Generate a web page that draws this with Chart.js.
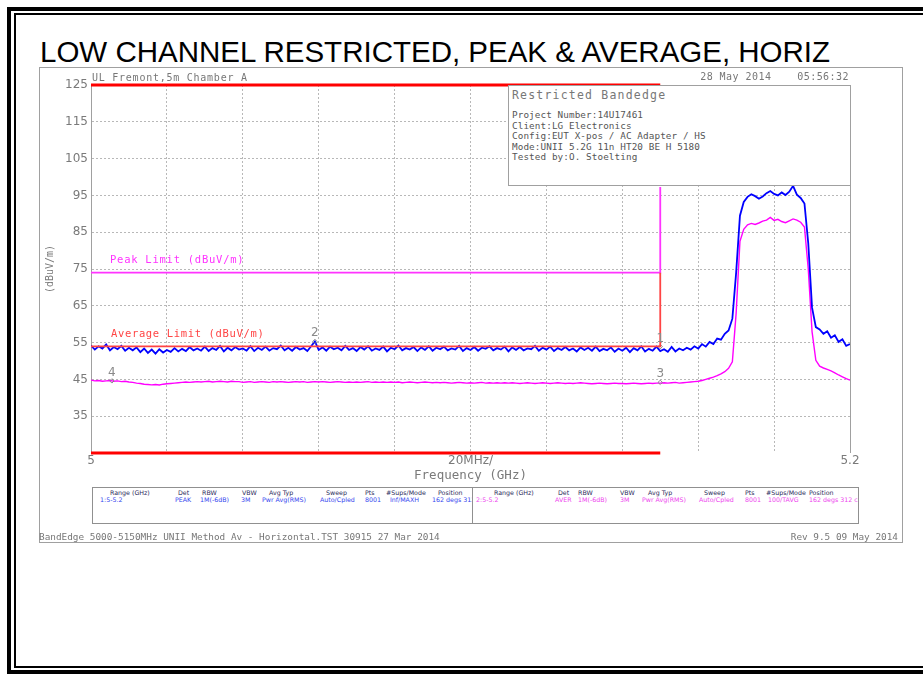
<!DOCTYPE html>
<html>
<head>
<meta charset="utf-8">
<script src="https://cdn.jsdelivr.net/npm/chart.js@4.4.1/dist/chart.umd.min.js"></script>
<style>
  html, body { margin: 0; padding: 0; background: #fff; }
  body { position: relative; width: 923px; height: 675px; overflow: hidden; }
  .abs { position: absolute; white-space: pre; }
  #outer { position: absolute; left: 7px; top: 7px; width: 1000px; height: 659px;
           border-left: 4px solid #000; border-top: 4px solid #000; border-bottom: 4px solid #000; }
  #inner { position: absolute; left: 14px; top: 13px; width: 1000px; height: 651px;
           border-left: 2px solid #000; border-top: 2px solid #000; border-bottom: 2px solid #000; }
  #sheet { position: absolute; left: 39px; top: 67px; width: 862px; height: 474px; border: 1px solid #a0a0a0; }
  #title { position: absolute; left: 40px; top: 37px; font-family: "Liberation Sans", Arial, sans-serif;
           font-size: 29.5px; line-height: 29.5px; color: #000; white-space: pre; }
  #chart { position: absolute; left: 0; top: 0; }
  #infoBox { position: absolute; left: 508px; top: 85px; width: 341px; height: 99px;
             background: #fff; border: 1px solid #a0a0a0; }
  #legendBox { position: absolute; left: 92px; top: 487px; width: 765px; height: 35px; border: 1px solid #909090; background: #fff; }
  .cell { position: absolute; top: 0; height: 35px; overflow: hidden; }
</style>
</head>
<body>
<div id="outer"></div>
<div id="inner"></div>
<div id="sheet"></div>
<div id="title">LOW CHANNEL RESTRICTED, PEAK &amp; AVERAGE, HORIZ</div>
<canvas id="chart" width="923" height="675"></canvas>
<div id="infoBox"></div>
<div id="legendBox">
  <div class="cell" id="cellA" style="left:0;width:379px;border-right:1px solid #909090"></div>
  <div class="cell" id="cellB" style="left:380px;width:385px"></div>
</div>
<script>
// sweep 5.0 - 5.2 GHz, one reading per MHz
const sweepStart = 5.0;
const sweepStop = 5.2;

// trace 1: peak detector, max hold (dBuV/m)
const peakTrace = [
  54.2, 53.1, 54.0, 53.4, 54.5, 52.9, 53.8, 53.2, 54.1, 52.8,
  53.6, 52.9, 53.7, 52.4, 53.4, 52.2, 53.1, 52.0, 53.2, 52.3,
  53.0, 52.5, 53.5, 52.6, 53.3, 52.7, 53.8, 52.9, 53.4, 52.8,
  53.9, 52.7, 53.5, 53.0, 54.1, 52.6, 53.6, 52.9, 53.8, 53.1,
  53.4, 52.8, 54.0, 52.7, 53.6, 53.0, 53.9, 52.8, 53.5, 53.2,
  54.2, 52.9, 53.6, 52.8, 53.8, 53.1, 53.5, 52.7, 54.0, 55.3,
  53.0, 53.7, 52.8, 53.9, 53.2, 53.6, 52.9, 54.1, 53.0, 53.5,
  52.7, 53.8, 53.1, 54.0, 52.8, 53.4, 53.0, 53.9, 52.6, 53.6,
  53.2, 54.2, 52.9, 53.5, 53.1, 53.8, 52.7, 53.7, 53.0, 54.0,
  52.8, 53.6, 53.2, 53.9, 52.9, 53.4, 53.1, 54.1, 52.7, 53.5,
  53.0, 53.8, 52.8, 53.6, 53.3, 54.0, 52.9, 53.5, 53.1, 53.9,
  52.6, 53.7, 53.0, 53.8, 52.9, 53.4, 53.2, 54.1, 52.8, 53.6,
  53.1, 53.9, 52.7, 53.5, 53.0, 53.8, 52.9, 53.4, 52.6, 53.7,
  53.0, 53.6, 52.8, 53.9, 52.7, 53.3, 52.9, 53.7, 52.5, 53.4,
  52.8, 53.6, 52.4, 53.5, 52.9, 54.0, 52.6, 53.3, 52.8, 53.9,
  52.7, 53.2, 52.5, 53.8, 52.6, 53.4, 52.9, 53.6, 53.1, 54.0,
  53.4, 54.6, 53.9, 55.2, 54.6, 56.1, 55.8, 57.4, 58.3, 61.5,
  74.0, 89.5, 93.2, 94.6, 95.3, 94.8, 94.1, 94.7, 95.6, 96.2,
  95.4, 95.0, 95.8, 95.1, 96.0, 97.6, 95.2, 94.3, 92.8, 82.0,
  64.5, 59.2, 58.6, 57.4, 58.1, 56.3, 57.0, 55.2, 55.9, 54.1,
  54.6
];

// trace 2: average detector (dBuV/m)
const avgTrace = [
  44.8, 44.6, 44.7, 44.5, 44.6, 44.7, 44.5, 44.6, 44.4, 44.5,
  44.3, 44.2, 44.0, 43.9, 43.7, 43.6, 43.5, 43.6, 43.5, 43.7,
  43.8, 43.9, 44.0, 44.1, 44.2, 44.3, 44.2, 44.3, 44.4, 44.3,
  44.4, 44.5, 44.3, 44.4, 44.5, 44.4, 44.3, 44.5, 44.4, 44.4,
  44.2, 44.3, 44.4, 44.2, 44.3, 44.4, 44.3, 44.2, 44.4, 44.3,
  44.4, 44.3, 44.2, 44.3, 44.4, 44.3, 44.4, 44.2, 44.3, 44.4,
  44.3, 44.4, 44.3, 44.2, 44.3, 44.4, 44.3, 44.2, 44.3, 44.2,
  44.3, 44.2, 44.3, 44.4, 44.2, 44.3, 44.2, 44.3, 44.2, 44.3,
  44.2, 44.3, 44.1, 44.2, 44.3, 44.2, 44.1, 44.2, 44.3, 44.2,
  44.1, 44.2, 44.1, 44.2, 44.1, 44.0, 44.1, 44.2, 44.1, 44.0,
  44.1, 44.0, 44.1, 44.2, 44.0, 44.1, 44.0, 44.1, 44.0, 44.1,
  44.0, 44.1, 44.0, 43.9, 44.0, 44.1, 44.0, 43.9, 44.0, 44.1,
  44.0, 43.9, 44.0, 44.1, 44.0, 43.9, 44.0, 43.9, 44.0, 44.1,
  44.0, 43.9, 43.8, 43.9, 44.0, 43.9, 43.8, 43.9, 44.0, 43.9,
  43.9, 43.8, 43.9, 44.0, 43.9, 43.8, 43.9, 44.0, 43.9, 44.0,
  44.0, 44.1, 44.0, 44.1, 44.2, 44.0, 44.1, 44.2, 44.3, 44.4,
  44.5, 44.7, 45.0, 45.3, 45.6, 46.0, 46.5, 47.1, 48.0, 49.8,
  63.0, 82.5, 85.8, 87.0, 87.4, 87.1, 87.5, 88.0, 88.3, 89.0,
  88.2, 88.5, 87.9, 87.6, 88.1, 88.6, 88.3, 87.7, 86.4, 75.0,
  58.0, 50.2, 48.6, 48.1, 47.7, 47.3, 46.8, 46.2, 45.7, 45.2,
  44.8
];

// limit lines
const bandEdgeFreq = [5.0, 5.15];
const bandTopLevel = [125, 125];
const bandBottomLevel = [25, 25];
const peakLimitFreq = [5.0, 5.15, 5.15];
const peakLimitLevel = [74, 74, 97.3];
const avgLimitFreq = [5.0, 5.15, 5.15];
const avgLimitLevel = [54, 54, 74];

// markers
const markerNames = ['1', '2', '3', '4'];
const markerFreq = [5.15, 5.059, 5.15, 5.0055];
const markerLevel = [53.9, 55.3, 44.2, 44.6];

// axes
const xTickValues = [5.0, 5.1, 5.2];
const xTickText = ['5', '20MHz/', '5.2'];
const yTickValues = [35, 45, 55, 65, 75, 85, 95, 105, 115, 125];

const toXY = (xs, ys) => xs.map((x, i) => ({ x: x, y: ys[i] }));
const sweepXY = vals => vals.map((v, i) => ({
  x: sweepStart + i * (sweepStop - sweepStart) / (vals.length - 1), y: v
}));

// plot frame (right edge) + marker numbers
const plotFrame = {
  id: 'plotFrame',
  afterDatasetsDraw(chart) {
    const { ctx, chartArea: a, scales: { x, y } } = chart;
    ctx.save();
    ctx.strokeStyle = '#a0a0a0';
    ctx.lineWidth = 1;
    ctx.beginPath();
    ctx.moveTo(Math.round(a.right) + 0.5, a.top);
    ctx.lineTo(Math.round(a.right) + 0.5, a.bottom);
    ctx.stroke();
    ctx.fillStyle = '#8a8a8a';
    ctx.font = '12px "DejaVu Sans"';
    ctx.textAlign = 'center';
    markerNames.forEach((n, i) => {
      ctx.fillText(n, x.getPixelForValue(markerFreq[i]), y.getPixelForValue(markerLevel[i]) - 5);
    });
    ctx.restore();
  }
};

const gridColor = '#b8b8b8';
const tickColor = '#7a7a7a';

new Chart(document.getElementById('chart'), {
  type: 'line',
  data: {
    datasets: [
      { data: toXY(bandEdgeFreq, bandTopLevel), borderColor: '#ff0000', borderWidth: 3, clip: false },
      { data: toXY(bandEdgeFreq, bandBottomLevel), borderColor: '#ff0000', borderWidth: 3, clip: false },
      { data: toXY(avgLimitFreq, avgLimitLevel), borderColor: '#ff4444', borderWidth: 1.8 },
      { data: toXY(peakLimitFreq, peakLimitLevel), borderColor: '#ff33ff', borderWidth: 1.8 },
      { data: toXY(markerFreq, markerLevel), showLine: false, pointRadius: 2.2, pointStyle: 'rectRot',
        pointBorderColor: '#888', pointBackgroundColor: 'rgba(0,0,0,0)', pointBorderWidth: 1 },
      { data: sweepXY(peakTrace), borderColor: '#0000ff', borderWidth: 1.8 },
      { data: sweepXY(avgTrace), borderColor: '#ff00ff', borderWidth: 1.4 }
    ]
  },
  options: {
    responsive: false,
    animation: false,
    events: [],
    layout: { padding: { left: 41, top: 85, right: 73, bottom: 192 } },
    elements: { point: { radius: 0 }, line: { tension: 0 } },
    plugins: { legend: { display: false }, tooltip: { enabled: false } },
    scales: {
      x: {
        type: 'linear', min: sweepStart, max: sweepStop,
        ticks: {
          stepSize: 0.02, autoSkip: false, maxRotation: 0, padding: 1, color: tickColor,
          font: { family: 'DejaVu Sans', size: 12 },
          callback: v => {
            const k = xTickValues.findIndex(t => Math.abs(t - v) < 1e-6);
            return k < 0 ? '' : xTickText[k];
          }
        },
        grid: { color: gridColor, drawTicks: false },
        border: { display: false, dash: [2, 2] },
        title: { display: true, text: 'Frequency (GHz)', color: tickColor,
                 font: { family: 'DejaVu Sans Mono', size: 12.5 }, padding: 0 },
        afterFit: s => { s.height = 30; }
      },
      y: {
        min: 25, max: 125,
        ticks: {
          stepSize: 10, padding: 3, color: tickColor,
          font: { family: 'DejaVu Sans', size: 12 },
          callback: v => yTickValues.includes(v) ? String(v) : ''
        },
        grid: { color: c => (c.tick && c.tick.value === 25) ? 'rgba(0,0,0,0)' : gridColor, drawTicks: false },
        border: { display: true, color: '#a0a0a0', dash: [2, 2] },
        title: { display: true, text: '(dBuV/m)', color: tickColor,
                 font: { family: 'DejaVu Sans Mono', size: 10 }, padding: { top: 3, bottom: 0 } },
        afterFit: s => { s.width = 50; }
      }
    }
  },
  plugins: [plotFrame]
});

// analyzer sheet texts
function put(parent, str, x, base, size, color, opts) {
  opts = opts || {};
  const el = document.createElement('div');
  el.className = 'abs';
  el.textContent = str;
  el.style.top = (base - 0.846 * size) + 'px';
  if (opts.right) el.style.right = x + 'px'; else el.style.left = x + 'px';
  el.style.fontSize = size + 'px';
  el.style.lineHeight = size + 'px';
  el.style.color = color;
  el.style.fontFamily = opts.family || '"DejaVu Sans Mono", monospace';
  if (opts.ls) el.style.letterSpacing = opts.ls + 'px';
  parent.appendChild(el);
}

const body = document.body;
put(body, 'UL Fremont,5m Chamber A', 92, 81, 10, '#777', { ls: 0.75 });
put(body, '28 May 2014    05:56:32', 923 - 849, 80, 10, '#777', { right: true, ls: 0.45 });
put(body, 'Peak Limit (dBuV/m)', 110, 263, 10.5, '#ff33ff', { ls: 0.75 });
put(body, 'Average Limit (dBuV/m)', 111, 337, 10.5, '#ff4444', { ls: 0.65 });
put(body, 'BandEdge 5000-5150MHz UNII Method Av - Horizontal.TST 30915 27 Mar 2014', 39, 540, 9.4, '#777');
put(body, 'Rev 9.5 09 May 2014', 923 - 898, 540, 9.4, '#777', { right: true });

const info = document.getElementById('infoBox');
put(info, 'Restricted Bandedge', 3, 14, 11.5, '#777', { ls: 1.2 });
const infoLines = [
  'Project Number:14U17461',
  'Client:LG Electronics',
  'Config:EUT X-pos / AC Adapter / HS',
  'Mode:UNII 5.2G 11n HT20 BE H 5180',
  'Tested by:O. Stoelting'
];
infoLines.forEach((s, i) => put(info, s, 3, 32 + i * 10.5, 9.3, '#555', { ls: 0.1 }));

// trace setup table
const setupHead = ['Range (GHz)', 'Det', 'RBW', 'VBW', 'Avg Typ', 'Sweep', 'Pts', '#Sups/Mode', 'Position'];
const setupTrace1 = ['1:5-5.2', 'PEAK', '1M(-6dB)', '3M', 'Pwr Avg(RMS)', 'Auto/Cpled', '8001', 'Inf/MAXH', '162 degs 312 c'];
const setupTrace2 = ['2:5-5.2', 'AVER', '1M(-6dB)', '3M', 'Pwr Avg(RMS)', 'Auto/Cpled', '8001', '100/TAVG', '162 degs 312 c'];
const headXA = [17, 85, 109, 149, 176, 233, 272, 293, 345];
const rowXA = [7, 82, 107, 148, 169, 227, 272, 297, 339];
const headXB = [21, 85, 105, 147, 175, 231, 272, 293, 336];
const rowXB = [3, 82, 105, 147, 169, 226, 272, 295, 336];
const fam = { family: '"DejaVu Sans", sans-serif' };
const cellA = document.getElementById('cellA');
const cellB = document.getElementById('cellB');
setupHead.forEach((s, i) => {
  put(cellA, s, headXA[i], 7, 6.3, '#2a2a5a', fam);
  put(cellB, s, headXB[i], 7, 6.3, '#2a2a5a', fam);
});
setupTrace1.forEach((s, i) => put(cellA, s, rowXA[i], 14, 6.3, '#3344ee', fam));
setupTrace2.forEach((s, i) => put(cellB, s, rowXB[i], 14, 6.3, '#ee44ee', fam));
</script>
</body>
</html>
